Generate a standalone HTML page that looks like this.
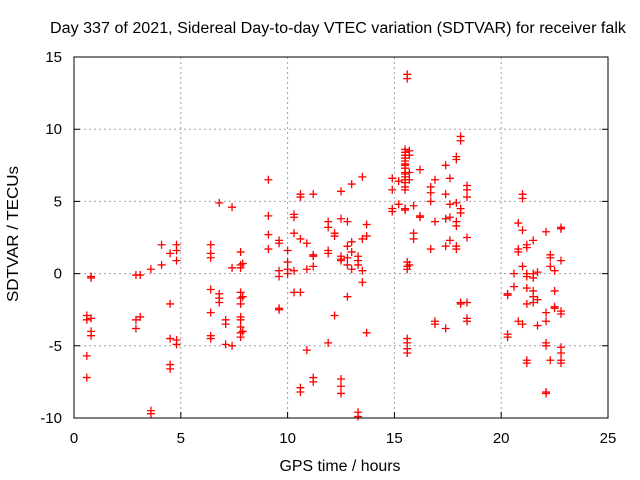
<!DOCTYPE html>
<html><head><meta charset="utf-8"><style>
body{margin:0;background:#fff;font-family:"Liberation Sans",sans-serif}
svg{display:block}
</style></head><body>
<svg id="chart" width="640" height="480" font-family="Liberation Sans, sans-serif" font-size="14">
<text x="338" y="33" text-anchor="middle" font-size="15.5" textLength="576" lengthAdjust="spacingAndGlyphs">Day 337 of 2021, Sidereal Day-to-day VTEC variation (SDTVAR) for receiver falk</text>
<text x="340" y="471" text-anchor="middle" font-size="15.5" textLength="121" lengthAdjust="spacingAndGlyphs">GPS time / hours</text>
<text transform="translate(18,234) rotate(-90)" text-anchor="middle" font-size="15.5" textLength="136" lengthAdjust="spacingAndGlyphs">SDTVAR / TECUs</text>
<g id="grid"></g>
<g id="axes"></g>
<g id="points"></g>
<rect x="74" y="57" width="534" height="361" fill="none" stroke="#000"/>
</svg>
<script>
const xTicks=[0,5,10,15,20,25];
const yTicks=[-10,-5,0,5,10,15];
const groups=[
[0.6,[-2.9,-3.2,-5.7,-7.2]],[0.8,[-0.3,-0.2,-3.1,-4.0,-4.3]],
[2.9,[-0.1,-3.2,-3.8]],[3.1,[-0.1,-3.0]],[3.6,[0.3,-9.5,-9.7]],[4.1,[0.6,2.0]],
[4.5,[1.4,-2.1,-4.5,-6.3,-6.6]],[4.8,[0.9,2.0,1.6,-4.6,-4.9]],
[6.4,[2.0,1.4,1.1,-1.1,-2.7,-4.3,-4.5]],[6.8,[4.9,-1.4,-1.7,-2.0]],[7.1,[-3.2,-3.5,-4.9]],
[7.4,[4.6,0.4,-5.0]],[7.8,[1.5,0.6,0.4,-1.3,-1.7,-2.1,-3.0,-3.2,-3.7,-4.1,-4.4]],[7.9,[0.7,-1.6,-4.0]],
[9.1,[6.5,4.0,2.7,1.7]],[9.6,[2.3,2.1,0.2,-0.2,-2.4,-2.5]],[10.0,[1.6,0.8,0.3,0.0]],
[10.3,[4.1,3.9,2.8,0.2,-1.3]],[10.6,[5.5,5.3,2.4,-1.3,-7.9,-8.2]],[10.9,[2.1,0.3,-5.3]],
[11.2,[5.5,1.3,1.2,0.5,-7.2,-7.5]],[11.9,[3.6,3.2,1.6,1.4,-4.8]],[12.2,[2.8,2.6,-2.9]],
[12.5,[5.7,3.8,1.2,1.0,0.9,-7.3,-7.8,-8.3]],[12.8,[3.6,1.9,1.1,0.6,-1.6]],[13.0,[6.2,2.2,1.5,0.3]],
[13.3,[1.2,0.9,0.6,-9.6,-9.9]],[13.5,[6.7,2.4,0.2,-0.6]],[13.7,[3.4,2.6,-4.1]],
[14.9,[6.6,5.8,4.5,4.3]],[15.2,[6.4,4.8]],
[15.5,[8.6,8.4,8.2,8.0,7.8,7.6,7.5,7.3,7.0,6.9,6.7,6.5,6.3,6.0,5.8,4.5,4.4]],
[15.6,[13.8,13.5,0.8,0.5,0.3,-4.5,-4.8,-5.2,-5.5]],[15.7,[8.5,8.2,7.0,6.5,0.6]],
[15.9,[4.7,2.8,2.4]],[16.2,[7.2,4.0,3.9]],[16.7,[6.0,5.6,5.0,1.7]],[16.9,[6.5,3.6,-3.3,-3.5]],
[17.4,[7.5,5.5,3.8,1.9,-3.8]],[17.6,[6.6,4.8,3.9,2.3]],[17.9,[8.1,7.9,4.9,3.6,3.3,1.9,1.7]],
[18.1,[9.5,9.2,4.5,4.2,-2.1,-2.0]],[18.4,[6.1,5.8,5.3,2.5,-2.0,-3.1,-3.3]],
[20.3,[-1.4,-1.5,-4.2,-4.4]],[20.6,[-0.9,0.0]],[20.8,[3.5,1.7,1.5,-3.3]],
[21.0,[5.5,5.2,3.0,0.5,-3.5]],[21.2,[2.0,1.8,0.0,-0.2,-1.0,-2.1,-6.0,-6.2]],
[21.5,[2.3,0.0,-0.3,-1.2,-1.6,-2.0]],[21.7,[0.1,-1.8,-3.6]],
[22.1,[2.9,-2.7,-3.3,-4.8,-5.0,-8.2,-8.3]],[22.3,[1.3,1.1,0.5,-6.0]],[22.5,[0.2,-1.2,-2.3,-2.4]],
[22.8,[3.2,3.1,0.9,-2.6,-2.8,-5.1,-5.5,-6.0,-6.2]]
];
const X0=74,X1=608,Y0=418,Y1=57;
const sx=h=>X0+(h-0)/(25-0)*(X1-X0);
const sy=v=>Y0-(v+10)/(25)*(Y0-Y1);
const NS='http://www.w3.org/2000/svg';
function mk(t,a,p){const e=document.createElementNS(NS,t);for(const k in a)e.setAttribute(k,a[k]);p.appendChild(e);return e;}
const grid=document.getElementById('grid'),axes=document.getElementById('axes'),pts=document.getElementById('points');
xTicks.forEach(t=>{const x=sx(t);
 if(t>0&&t<25){const g=mk('line',{x1:x,x2:x,y1:Y1,y2:Y0,stroke:'#a0a0a0','stroke-dasharray':'2,3'},grid);
 
 }
 const l=mk('line',{x1:x,x2:x,y1:Y0,y2:Y0-6,stroke:'#000'},axes);
 
 
 const tx=mk('text',{x:x,y:443,'text-anchor':'middle','font-size':15},axes);tx.textContent=t;
 
 
});
yTicks.forEach(t=>{const y=sy(t);
 if(t>-10&&t<15){const g=mk('line',{x1:X0,x2:X1,y1:y,y2:y,stroke:'#a0a0a0','stroke-dasharray':'2,3'},grid);
 
 }
 const l=mk('path',{d:`M${X0} ${y}h6M${X1} ${y}h-6`,stroke:'#000'},axes);
 
 
 const tx=mk('text',{x:62,y:y+5,'text-anchor':'end','font-size':15},axes);tx.textContent=t;
 
 
});
groups.forEach(g=>{const h=g[0];g[1].forEach(v=>{const x=sx(h),y=sy(v);
 const p=mk('path',{d:`M${x-4} ${y}h8M${x} ${y-4}v8`,stroke:'#f00','stroke-width':1.3},pts);
 
 
});});
</script>
</body></html>
